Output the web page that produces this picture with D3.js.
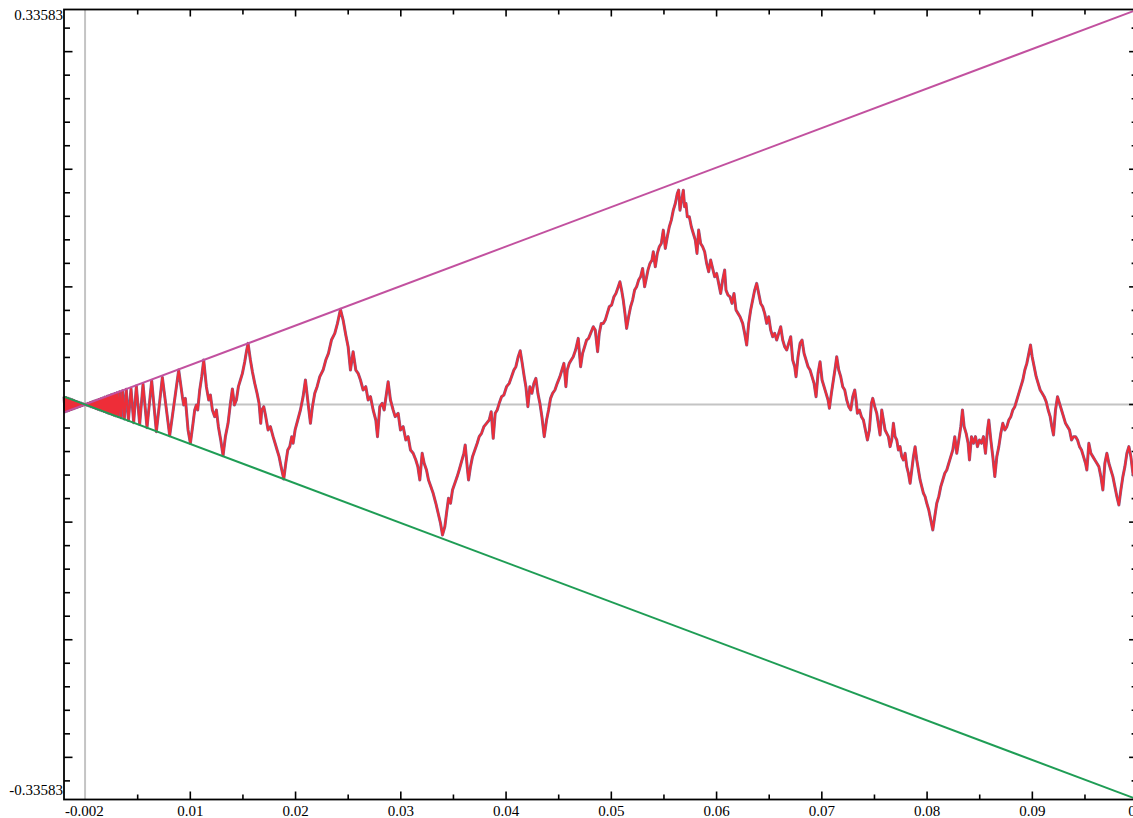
<!DOCTYPE html>
<html><head><meta charset="utf-8">
<script src="https://cdn.jsdelivr.net/npm/d3@7"></script>
<style>html,body{margin:0;padding:0;background:#fff;overflow:hidden}</style>
</head><body><svg id="c" width="1133" height="818"></svg>
<script>
// ---------- data ----------
const xDomain = [-0.002, 0.1];
const yDomain = [-0.33583, 0.33583];

const xMajorTicks = [0.01,0.02,0.03,0.04,0.05,0.06,0.07,0.08,0.09,0.1];
const xTickLabels = ["0.01","0.02","0.03","0.04","0.05","0.06","0.07","0.08","0.09","0.1"];
const xMinorTicks = [0.005,0.015,0.025,0.035,0.045,0.055,0.065,0.075,0.085,0.095];
const xEdgeLabel = "-0.002";

const yMajorTicks = [-0.3,-0.2,-0.1,0,0.1,0.2,0.3];
const yMinorTicks = [-0.32,-0.28,-0.26,-0.24,-0.22,-0.18,-0.16,-0.14,-0.12,-0.08,-0.06,-0.04,-0.02,
                     0.02,0.04,0.06,0.08,0.12,0.14,0.16,0.18,0.22,0.24,0.26,0.28,0.32];
const yEdgeLabels = ["0.33583","-0.33583"];

// envelope lines
const upperLine = [[-0.002,-0.0067166],[0.1,0.33583]];
const lowerLine = [[-0.002,0.0067166],[0.1,-0.33583]];

// curve: negative side (dense oscillation)
const curveNeg = [[-0.002,0.0066],[-0.0019,-0.00627],[-0.0018,0.00594],[-0.0017,-0.00561],[-0.0016,0.00528],
 [-0.0015,-0.00495],[-0.0014,0.00462],[-0.0013,-0.00429],[-0.0012,0.00396],[-0.0011,-0.00363],[-0.001,0.0033],
 [-0.0009,-0.00297],[-0.0008,0.00264],[-0.0007,-0.00231],[-0.0006,0.00198],[-0.0005,-0.00165],[-0.0004,0.00132],
 [-0.0003,-0.00099],[-0.0002,0.00066],[-0.0001,-0.00033],[0,0]];
// curve: near zero, positive side
const curveNear0 = [[0.0001,0.00033],[0.0002,-0.00066],[0.0003,0.00099],[0.0004,-0.00132],[0.0005,0.00165],
 [0.0006,-0.00198],[0.0007,0.00231],[0.0008,-0.00264],[0.0009,0.00297],[0.001,-0.0033],[0.0011,0.00363],
 [0.0012,-0.00396],[0.0013,0.00429],[0.0014,-0.00462],[0.0015,0.00495],[0.0016,-0.00528],[0.0017,0.00561],
 [0.0018,-0.00594],[0.0019,0.00627],[0.002,-0.0066],[0.0021,0.00693],[0.00216,-0.00713],[0.00222,0.00733],
 [0.00228,-0.00752],[0.00234,0.00772],[0.00241,-0.00795],[0.00249,0.00822],[0.00257,-0.00848],[0.00265,0.00875],
 [0.00274,-0.00904],[0.00283,0.00934],[0.00293,-0.00967],[0.00304,0.01003],[0.00316,-0.01043],[0.00329,0.01086],
 [0.00342,-0.01129],[0.00357,0.01178],[0.00373,-0.01231],[0.00392,0.01294],[0.00412,-0.0136]];
// curve: 0.0044 .. 0.024
const curveA = [[0.004366,0.01374],[0.00462,-0.01544],[0.004873,0.01572],[0.00519,-0.01685],[0.005507,0.01742],
 [0.005887,-0.01968],[0.006331,0.02025],[0.006775,-0.02308],[0.007345,0.02308],[0.008042,-0.02648],[0.008898,0.02931],
 [0.009246,0.00666],[0.009373,-0.00042],[0.009531,0.00524],[0.009785,-0.02167],[0.010007,-0.03299],[0.01026,-0.016],
 [0.010418,-0.00467],[0.010577,-0.00042],[0.010704,-0.00467],[0.010894,0.01232],[0.011084,0.02365],[0.011274,0.03781],
 [0.011527,0.01515],[0.011749,0.00382],[0.011908,0.00807],[0.012098,-0.00467],[0.01232,-0.01034],[0.012478,-0.00467],
 [0.012668,-0.01883],[0.01289,-0.03016],[0.013112,-0.04347],[0.013334,-0.02733],[0.013587,-0.016],[0.013809,0.00099],
 [0.013999,0.01317],[0.014189,-0.00042],[0.014379,0.00382],[0.014569,0.01515],[0.01476,0.02082],[0.01495,0.02648],
 [0.015172,0.03639],[0.01533,0.04489],[0.015488,0.05197],[0.01571,0.03781],[0.0159,0.0279],[0.016122,0.01798],
 [0.016344,0.00949],[0.016534,0.00099],[0.016692,-0.016],[0.016787,-0.00467],[0.016978,-0.00184],[0.017168,-0.01034],
 [0.01739,-0.02167],[0.017611,-0.01883],[0.017865,-0.02733],[0.018055,-0.03299],[0.018245,-0.03866],[0.018435,-0.04432],
 [0.018625,-0.05282],[0.018879,-0.0633],[0.019069,-0.04999],[0.019259,-0.03866],[0.019449,-0.03583],[0.019639,-0.02733],
 [0.019766,-0.03299],[0.019956,-0.02167],[0.020209,-0.01317],[0.020463,-0.00467],[0.020716,0.00666],[0.020938,0.02082],
 [0.021192,0.00099],[0.021414,-0.016],[0.021604,-0.00184],[0.021825,0.00949],[0.022047,0.01515],[0.022301,0.02365],
 [0.022617,0.02931],[0.022871,0.03781],[0.023124,0.04347],[0.02341,0.0548],[0.023727,0.06047],[0.02398,0.06896]];
// curve: 0.024 .. 0.050
const curveB = [[0.024265,0.08086],[0.024519,0.07179],[0.024772,0.05905],[0.024994,0.04914],[0.025216,0.02931],
 [0.025469,0.04489],[0.025723,0.02931],[0.025945,0.02648],[0.026166,0.02082],[0.02642,0.01232],[0.026673,0.01515],
 [0.026895,0.00382],[0.027117,0.00666],[0.027371,-0.00467],[0.027624,-0.01317],[0.027783,-0.02733],[0.028004,-0.00184],
 [0.028226,0.00099],[0.028416,-0.00467],[0.028638,0.00949],[0.028796,0.0194],[0.029018,0.00382],[0.029272,-0.00467],
 [0.029462,-0.01034],[0.029747,-0.0075],[0.029969,-0.02167],[0.030222,-0.01883],[0.030476,-0.03016],[0.030697,-0.02733],
 [0.030919,-0.03866],[0.031173,-0.04149],[0.031426,-0.04715],[0.031616,-0.05282],[0.031806,-0.06415],[0.032028,-0.04149],
 [0.032218,-0.04999],[0.03244,-0.05565],[0.03263,-0.06415],[0.032852,-0.06981],[0.033074,-0.07548],[0.033327,-0.08397],
 [0.033549,-0.09247],[0.033771,-0.10096],[0.033961,-0.11088],[0.034183,-0.1038],[0.034341,-0.09247],[0.034531,-0.07972],
 [0.034722,-0.08397],[0.034912,-0.07264],[0.035134,-0.06698],[0.035355,-0.06131],[0.035545,-0.05565],[0.035767,-0.04857],
 [0.035989,-0.04149],[0.036116,-0.03441],[0.036306,-0.05282],[0.036433,-0.06415],[0.036623,-0.05282],[0.036813,-0.04432],
 [0.037035,-0.03866],[0.037257,-0.03299],[0.037447,-0.02733],[0.037669,-0.0245],[0.03789,-0.01883],[0.038144,-0.016],
 [0.038397,-0.01317],[0.038587,-0.00609],[0.038778,-0.02875],[0.038968,-0.0075],[0.039158,-0.00467],[0.039348,0.00099],
 [0.03957,0.00666],[0.039792,0.00807],[0.040045,0.01515],[0.040299,0.01798],[0.04052,0.02365],[0.040742,0.02931],
 [0.040932,0.03214],[0.041154,0.04064],[0.041344,0.04574],[0.041534,0.03498],[0.041725,0.02365],[0.041883,0.01515],
 [0.042073,-0.00184],[0.042263,0.01515],[0.042453,0.00949],[0.042643,0.01798],[0.042833,0.02223],[0.043023,0.00949],
 [0.043214,0.00099],[0.043404,-0.01034],[0.043626,-0.02733],[0.043847,-0.01317],[0.044037,-0.00467],[0.044228,0.00524],
 [0.044418,0.00949],[0.04464,0.01232],[0.044861,0.01798],[0.045115,0.02365],[0.045305,0.02931],[0.045495,0.03498],
 [0.045685,0.01515],[0.045812,0.02931],[0.046002,0.03498],[0.046192,0.03781],[0.046383,0.04064],[0.046604,0.0463],
 [0.046858,0.05622],[0.04708,0.03214],[0.04727,0.04347],[0.04746,0.04914],[0.04765,0.0548],[0.04784,0.05622],
 [0.04803,0.06047],[0.048284,0.06613],[0.048474,0.0633],[0.048696,0.04489],[0.048854,0.06047],[0.049044,0.06896],
 [0.049234,0.06896],[0.049424,0.07179],[0.049614,0.07746],[0.049805,0.08312]];
// curve: 0.050 .. 0.0755
const curveC = [[0.050026,0.08454],[0.050248,0.09162],[0.050438,0.09445],[0.05066,0.10011],[0.050818,0.10436],
 [0.050977,0.09728],[0.051135,0.08879],[0.051294,0.07746],[0.051452,0.06471],[0.051642,0.07463],[0.051832,0.08312],
 [0.052023,0.08879],[0.052213,0.09728],[0.052403,0.10011],[0.052593,0.10578],[0.052783,0.10861],[0.052973,0.11569],
 [0.053163,0.10011],[0.05329,0.10578],[0.053481,0.11428],[0.053671,0.11994],[0.053861,0.12277],[0.053988,0.12985],
 [0.054178,0.11711],[0.054368,0.12844],[0.054558,0.1341],[0.054748,0.13693],[0.054938,0.14826],[0.055128,0.13268],
 [0.055318,0.1426],[0.055509,0.15109],[0.055699,0.15676],[0.055889,0.16525],[0.056079,0.17092],[0.056269,0.17941],
 [0.056396,0.18224],[0.056523,0.16525],[0.056681,0.17375],[0.05684,0.18224],[0.056966,0.16808],[0.057093,0.17092],
 [0.05722,0.15959],[0.05741,0.15959],[0.0576,0.15109],[0.05779,0.14543],[0.05798,0.13976],[0.058139,0.12844],
 [0.058297,0.14826],[0.058487,0.13693],[0.058677,0.1341],[0.058867,0.12985],[0.059057,0.11994],[0.059247,0.11286],
 [0.059437,0.12277],[0.059627,0.11569],[0.059818,0.10861],[0.060008,0.11144],[0.060198,0.10295],[0.060388,0.09445],
 [0.060578,0.10578],[0.060768,0.11428],[0.060895,0.09728],[0.061085,0.09303],[0.061275,0.09162],[0.061465,0.08595],
 [0.061656,0.09445],[0.061846,0.08029],[0.062036,0.07746],[0.062226,0.07463],[0.062479,0.06896],[0.062669,0.06047],
 [0.06286,0.05055],[0.06305,0.06896],[0.06324,0.08029],[0.06343,0.08879],[0.06362,0.09728],[0.06381,0.10295],
 [0.064,0.09445],[0.06419,0.08595],[0.064381,0.08312],[0.064571,0.07746],[0.064761,0.06896],[0.064951,0.07463],
 [0.065141,0.0633],[0.065331,0.05763],[0.065521,0.06047],[0.065711,0.0548],[0.065902,0.06047],[0.066092,0.06613],
 [0.066282,0.0548],[0.066472,0.04914],[0.066662,0.0463],[0.066852,0.05197],[0.067042,0.05763],[0.067232,0.03781],
 [0.067423,0.03214],[0.067549,0.02365],[0.067739,0.04064],[0.06793,0.05197],[0.06812,0.0548],[0.06831,0.04347],
 [0.0685,0.03781],[0.06869,0.03214],[0.06888,0.02931],[0.06907,0.02365],[0.06926,0.01798],[0.069451,0.00666],
 [0.069641,0.02648],[0.069831,0.03639],[0.070021,0.02082],[0.070211,0.01515],[0.070401,0.00949],[0.070591,0.00382],
 [0.070718,-0.00326],[0.070908,0.00949],[0.071098,0.02082],[0.071288,0.03214],[0.071415,0.04064],[0.071605,0.02931],
 [0.071795,0.02365],[0.071986,0.01515],[0.072176,0.01232],[0.072366,0.00382],[0.072556,-0.00184],[0.072746,-0.00467],
 [0.072936,0.00666],[0.073126,0.01232],[0.073253,0.00382],[0.07338,-0.0075],[0.07357,-0.00467],[0.07376,-0.01034],
 [0.07395,-0.01317],[0.074141,-0.02167],[0.074331,-0.03016],[0.074521,-0.02167],[0.074711,0.00099],[0.074838,0.00524],
 [0.075028,-0.00184],[0.075218,-0.0075],[0.075408,-0.01883]];
// curve: 0.0755 .. 0.1
const curveD = [[0.075533,-0.02591],[0.075692,-0.00467],[0.07585,-0.01317],[0.076009,-0.02167],[0.076167,-0.0245],
 [0.076326,-0.02733],[0.076484,-0.03583],[0.076643,-0.03016],[0.076801,-0.016],[0.076959,-0.02733],[0.077118,-0.03016],
 [0.077276,-0.03866],[0.077435,-0.03583],[0.077593,-0.04432],[0.077752,-0.04715],[0.07791,-0.04149],[0.078068,-0.05282],
 [0.078227,-0.05848],[0.078385,-0.06698],[0.078544,-0.05565],[0.078702,-0.04432],[0.078861,-0.03583],[0.079019,-0.04715],
 [0.079178,-0.05565],[0.079336,-0.06415],[0.079494,-0.06981],[0.079653,-0.07548],[0.079811,-0.07831],[0.07997,-0.08397],
 [0.08016,-0.08964],[0.08035,-0.09813],[0.08054,-0.10663],[0.08073,-0.0953],[0.08092,-0.08397],[0.08111,-0.07831],
 [0.0813,-0.06981],[0.081491,-0.06415],[0.081681,-0.05848],[0.081871,-0.05565],[0.082061,-0.04999],[0.082251,-0.04432],
 [0.082441,-0.03866],[0.082631,-0.02733],[0.082821,-0.04149],[0.083012,-0.03016],[0.083202,-0.01883],[0.08336,-0.00467],
 [0.083519,-0.01883],[0.083709,-0.0245],[0.083899,-0.03299],[0.084026,-0.04715],[0.084216,-0.02733],[0.084406,-0.03299],
 [0.084596,-0.02733],[0.084786,-0.03583],[0.084976,-0.03016],[0.085166,-0.03299],[0.085356,-0.02733],[0.085547,-0.04149],
 [0.085737,-0.02167],[0.085864,-0.01317],[0.086054,-0.03016],[0.086244,-0.04432],[0.086434,-0.06131],[0.086624,-0.04432],
 [0.086814,-0.03583],[0.087004,-0.0245],[0.087194,-0.016],[0.087385,-0.02167],[0.087575,-0.01883],[0.087765,-0.01317],
 [0.087955,-0.01034],[0.088145,-0.00467],[0.088335,-0.00184],[0.088525,0.00382],[0.088715,0.00949],[0.088906,0.01515],
 [0.089096,0.02082],[0.089286,0.02931],[0.089476,0.03498],[0.089666,0.04347],[0.089825,0.05055],[0.089983,0.04064],
 [0.090173,0.03214],[0.090363,0.02365],[0.090553,0.01798],[0.090743,0.01232],[0.090933,0.00949],[0.091123,0.00666],
 [0.091313,0.00241],[0.091504,-0.00467],[0.091694,-0.01034],[0.091852,-0.01883],[0.092011,-0.02591],[0.092201,-0.00467],
 [0.092391,0.00666],[0.092581,0.00099],[0.092771,-0.00467],[0.092961,-0.01034],[0.093151,-0.016],[0.093342,-0.01883],
 [0.093532,-0.02167],[0.093722,-0.03016],[0.093912,-0.02733],[0.094102,-0.02733],[0.094292,-0.03016],[0.094482,-0.03583],
 [0.094672,-0.03866],[0.094863,-0.04432],[0.095053,-0.04999],[0.095179,-0.05565],[0.095369,-0.03299],[0.09556,-0.04149],
 [0.09575,-0.04432],[0.09594,-0.04715],[0.09613,-0.04999],[0.09632,-0.05282],[0.09651,-0.06131],[0.0967,-0.07264],
 [0.09689,-0.04999],[0.097081,-0.04149],[0.097271,-0.04999],[0.097461,-0.05565],[0.097651,-0.06131],[0.097841,-0.06981],
 [0.098031,-0.07831],[0.098221,-0.08539],[0.098411,-0.07264],[0.098602,-0.06131],[0.098792,-0.05282],[0.098982,-0.04149],
 [0.099172,-0.03583],[0.099362,-0.04432],[0.099552,-0.05848],[0.099679,-0.06131],[0.1,-0.058]];

// ---------- drawing ----------
const svg = d3.select("#c");
const L = 64, R = 1137.6, T = 9.5, B = 799.5;
const x = d3.scaleLinear().domain(xDomain).range([L, R]);
const y = d3.scaleLinear().domain(yDomain).range([B, T]);
const font = "'Liberation Serif','Times New Roman',serif";

// zero guide lines
svg.append("line").attr("x1", x(0)).attr("x2", x(0)).attr("y1", T).attr("y2", B)
  .attr("stroke", "#c4c4c4").attr("stroke-width", 2);
svg.append("line").attr("x1", L).attr("x2", R).attr("y1", y(0)).attr("y2", y(0))
  .attr("stroke", "#c4c4c4").attr("stroke-width", 2);

// ticks (drawn under the curve)
const ax = svg.append("g").attr("stroke", "#000").attr("stroke-width", 1.6);
xMajorTicks.forEach(v => {
  ax.append("line").attr("x1", x(v)).attr("x2", x(v)).attr("y1", B).attr("y2", B - 8);
  ax.append("line").attr("x1", x(v)).attr("x2", x(v)).attr("y1", T).attr("y2", T + 7);
});
xMinorTicks.forEach(v => {
  ax.append("line").attr("x1", x(v)).attr("x2", x(v)).attr("y1", B).attr("y2", B - 5);
  ax.append("line").attr("x1", x(v)).attr("x2", x(v)).attr("y1", T).attr("y2", T + 5);
});
yMajorTicks.forEach(v => {
  ax.append("line").attr("y1", y(v)).attr("y2", y(v)).attr("x1", L).attr("x2", L + 8.5);
  ax.append("line").attr("y1", y(v)).attr("y2", y(v)).attr("x1", R).attr("x2", R - 8.5);
});
yMinorTicks.forEach(v => {
  ax.append("line").attr("y1", y(v)).attr("y2", y(v)).attr("x1", L).attr("x2", L + 6);
  ax.append("line").attr("y1", y(v)).attr("y2", y(v)).attr("x1", R).attr("x2", R - 6);
});

const line = d3.line().x(d => x(d[0])).y(d => y(d[1]));
const curve = [].concat(curveNeg, curveNear0, curveA, curveB, curveC, curveD);
svg.append("path").datum(curve).attr("d", line).attr("fill", "none")
  .attr("stroke", "#80608e").attr("stroke-width", 3).attr("stroke-linejoin", "round");
svg.append("path").datum(curve).attr("d", line).attr("fill", "none")
  .attr("stroke", "#ee2d38").attr("stroke-width", 2).attr("stroke-linejoin", "round");

svg.append("path").datum(upperLine).attr("d", line).attr("fill", "none")
  .attr("stroke", "#c2519f").attr("stroke-width", 2);
svg.append("path").datum(lowerLine).attr("d", line).attr("fill", "none")
  .attr("stroke", "#1f9d55").attr("stroke-width", 2);

// frame
svg.append("rect").attr("x", L).attr("y", T).attr("width", R - L).attr("height", B - T)
  .attr("fill", "none").attr("stroke", "#000").attr("stroke-width", 1.8);

// labels
const lab = svg.append("g").attr("font-family", font).attr("font-size", 15).attr("fill", "#000");
xMajorTicks.forEach((v, i) => {
  lab.append("text").attr("x", x(v)).attr("y", 816).attr("text-anchor", "middle").text(xTickLabels[i]);
});
lab.append("text").attr("x", L + 1).attr("y", 816).attr("text-anchor", "start").text(xEdgeLabel);
lab.append("text").attr("x", L - 1).attr("y", y(yDomain[1]) + 10.5).attr("text-anchor", "end").text(yEdgeLabels[0]);
lab.append("text").attr("x", L - 1).attr("y", y(yDomain[0]) - 4.5).attr("text-anchor", "end").text(yEdgeLabels[1]);
</script></body></html>
